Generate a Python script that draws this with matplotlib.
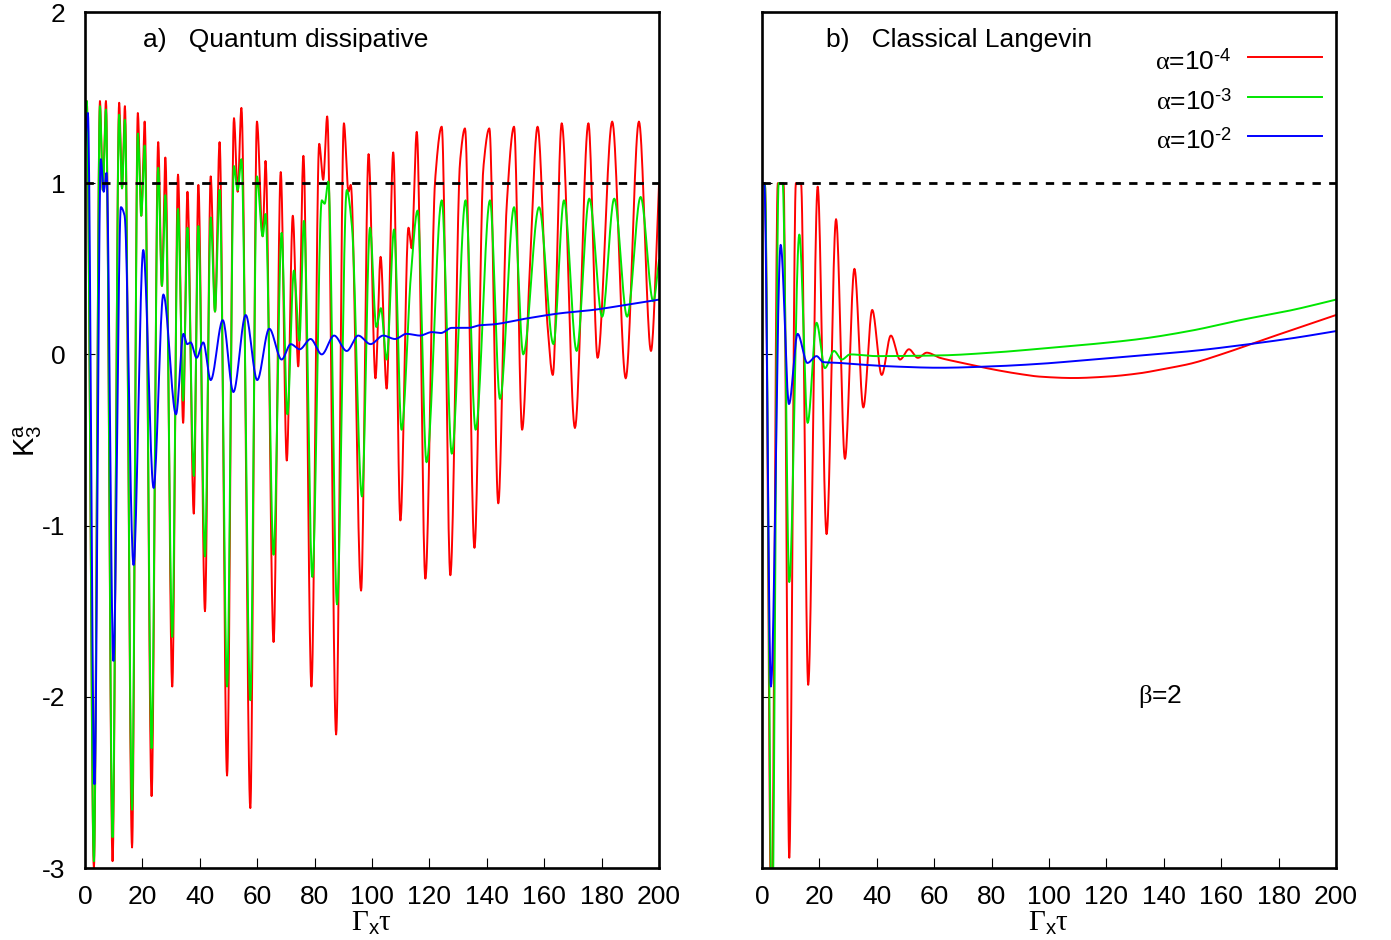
import numpy as np
import matplotlib
matplotlib.use("Agg")
import matplotlib.pyplot as plt

plt.rcParams['font.family'] = ['Liberation Sans', 'DejaVu Sans']
plt.rcParams['mathtext.fontset'] = 'custom'
plt.rcParams['mathtext.rm'] = 'Liberation Serif'
plt.rcParams['mathtext.it'] = 'Liberation Serif:italic'
plt.rcParams['mathtext.sf'] = 'Liberation Sans'
plt.rcParams['axes.unicode_minus'] = False

# ---------------- data (extrema / key points) -------------
# Panel a) Quantum dissipative
qa_red_t = [0, 0.6, 3.1, 5.2, 6.2, 7.3, 9.6, 11.9, 12.9, 13.9, 16.4, 18.4, 19.6, 20.8, 23.2,
            25.5, 26.8, 28.0, 30.4, 32.4, 34.2, 35.7, 37.9, 39.5, 41.8, 43.8, 45.3, 46.9, 49.5,
            51.9, 53.2, 54.5, 57.6, 59.9, 61.9, 62.9, 65.7, 68.2, 70.3, 72.4, 74.3, 76.1, 78.9,
            81.6, 83.0, 84.4, 87.5, 90.2, 91.8, 92.6, 96.2, 98.8, 101.2, 103.0, 105.1, 107.4,
            109.9, 112.7, 113.8, 115.6, 118.6, 122.0, 124.3, 127.3, 130.7, 132.4, 135.7, 138.8,
            140.9, 144.0, 146.9, 149.5, 152.3, 154.8, 157.7, 161.1, 163.0, 166.1, 170.7, 175.4,
            178.6, 183.7, 188.4, 193.0, 197.2, 200]
qa_red_v = [1.30, 1.48, -3.00, 1.48, 0.96, 1.48, -2.96, 1.47, 0.97, 1.45, -2.88, 1.41, 0.81, 1.36, -2.58,
            1.24, 0.40, 1.15, -1.94, 1.05, -0.40, 0.95, -0.93, 0.99, -1.50, 1.04, 0.25, 1.24, -2.46,
            1.38, 0.95, 1.44, -2.65, 1.36, 0.69, 1.13, -1.68, 1.065, -0.62, 0.81, -0.07, 1.16, -1.94,
            1.23, 1.02, 1.39, -2.22, 1.35, 0.95, 0.99, -1.38, 1.17, -0.14, 0.57, -0.20, 1.18,
            -0.97, 0.74, 0.62, 1.30, -1.31, 1.02, 1.33, -1.29, 1.13, 1.32, -1.13, 1.09,
            1.32, -0.87, 0.86, 1.33, -0.44, 0.43, 1.33, 0.18, -0.12, 1.35, -0.43, 1.35,
            -0.02, 1.36, -0.14, 1.36, 0.02, 0.99]

qa_green_t = [0, 0.6, 3.1, 5.2, 6.2, 7.3, 9.6, 11.9, 12.9, 13.9, 16.4, 18.4, 19.6, 20.8, 23.2,
              25.5, 26.8, 28.0, 30.4, 32.4, 34.2, 35.7, 37.9, 39.5, 41.8, 43.8, 45.3, 46.9, 49.5,
              51.9, 53.2, 54.5, 57.6, 59.9, 61.9, 62.9, 65.7, 68.5, 70.5, 72.8, 74.7, 76.3, 79.2,
              82.5, 83.5, 84.8, 87.8, 91.2, 93.0, 96.5, 99.3, 101.5, 103.1, 105.1, 107.7, 110.3,
              113.5, 115.9, 119.0, 124.3, 127.8, 132.6, 136.1, 141.1, 144.6, 149.5, 152.7, 158.2,
              163.2, 166.9, 171.3, 175.7, 180.2, 184.4, 188.9, 193.6, 198.0, 200]
qa_green_v = [1.30, 1.48, -2.96, 1.45, 0.96, 1.43, -2.82, 1.40, 0.97, 1.37, -2.66, 1.29, 0.81, 1.22, -2.30,
              1.09, 0.40, 0.93, -1.65, 0.85, -0.27, 0.74, -0.71, 0.75, -1.18, 0.80, 0.25, 0.96, -1.94,
              1.10, 0.96, 1.14, -2.02, 1.04, 0.69, 0.82, -1.17, 0.71, -0.35, 0.49, 0.08, 0.78, -1.30,
              0.90, 0.88, 1.01, -1.46, 0.96, 0.75, -0.83, 0.74, 0.16, 0.27, -0.03, 0.73, -0.44,
              0.45, 0.84, -0.63, 0.90, -0.58, 0.90, -0.44, 0.90, -0.26, 0.86, 0.00, 0.86,
              0.06, 0.90, 0.02, 0.91, 0.22, 0.91, 0.22, 0.92, 0.31, 0.55]

qa_blue_t = [0, 1.0, 3.3, 5.5, 6.5, 7.5, 9.9, 12.5, 13.8, 16.9, 20.3, 23.9, 27.3, 31.7, 34.3, 35.6,
             36.8, 38.9, 41.2, 43.8, 48.0, 51.7, 56.0, 60.0, 64.2, 68.5, 71.7, 74.8, 78.6, 82.5,
             86.8, 91.2, 95.2, 99.5, 103.9, 108.0, 112.0, 116.7, 120.8, 124.0, 127.8, 133.6,
             137.5, 142.0, 153.9, 165.5, 177.1, 188.7, 200]
qa_blue_v = [1.20, 1.41, -2.51, 1.14, 0.95, 1.06, -1.79, 0.86, 0.81, -1.23, 0.61, -0.78, 0.35, -0.35, 0.12, 0.06,
             0.07, -0.02, 0.07, -0.15, 0.20, -0.22, 0.23, -0.15, 0.15, -0.03, 0.06, 0.03, 0.09, 0.00,
             0.11, 0.02, 0.11, 0.06, 0.11, 0.09, 0.12, 0.11, 0.13, 0.125, 0.155, 0.155,
             0.17, 0.175, 0.21, 0.24, 0.26, 0.29, 0.32]

# Panel b) Classical Langevin
cl_red_t = [0, 1.0, 3.3, 5.5, 7.5, 9.5, 11.8, 13.6, 16.1, 19.4, 22.5, 25.8, 28.9, 32.2, 35.3, 38.4,
            41.7, 44.9, 48.1, 51.2, 54.3, 57.4, 62, 70, 79.4, 90, 96.9, 108.5, 120.1, 131.7, 140,
            149.1, 160.7, 172.3, 186, 200]
cl_red_v = [1.0, 1.0, -3.4, 1.0, 1.0, -2.94, 1.0, 1.0, -1.93, 0.98, -1.05, 0.79, -0.61, 0.50, -0.31, 0.26,
            -0.12, 0.11, -0.03, 0.03, -0.02, 0.01, -0.02, -0.05, -0.084, -0.115, -0.13, -0.138, -0.13, -0.11, -0.085,
            -0.055, 0.004, 0.072, 0.15, 0.23]

cl_green_t = [0, 1.0, 3.5, 5.8, 7.2, 9.5, 13.0, 15.9, 19.0, 21.9, 25.1, 27.8, 30.7, 40, 62, 80,
              96.9, 115, 131.7, 150, 166.6, 185, 200]
cl_green_v = [1.0, 1.0, -3.4, 1.0, 1.0, -1.33, 0.70, -0.40, 0.185, -0.08, 0.02, -0.03, 0.0, -0.01, -0.006, 0.01,
              0.033, 0.06, 0.09, 0.14, 0.20, 0.26, 0.32]

cl_blue_t = [0, 0.8, 3.1, 6.5, 9.4, 12.4, 15.8, 19.0, 21.3, 27, 35, 45, 62, 80, 96.9, 115,
             131.7, 150, 166.6, 185, 200]
cl_blue_v = [1.0, 1.0, -1.94, 0.64, -0.29, 0.12, -0.05, -0.01, -0.045, -0.05, -0.06, -0.07, -0.078, -0.07, -0.055, -0.03,
             -0.006, 0.02, 0.053, 0.095, 0.136]

legend_labels = ['$\\mathrm{α}$=10$^{\\mathsf{\u20104}}$', '$\\mathrm{α}$=10$^{\\mathsf{\u20103}}$',
                 '$\\mathrm{α}$=10$^{\\mathsf{\u20102}}$']
x_ticks = [0, 20, 40, 60, 80, 100, 120, 140, 160, 180, 200]
y_ticks = [-3, -2, -1, 0, 1, 2]

RED, GREEN, BLUE = '#ff0000', '#00e600', '#0000ff'


def smooth(t, v, n=20):
    """Monotone cubic (Fritsch-Carlson) path through the read points."""
    t = np.asarray(t, float)
    v = np.asarray(v, float)
    h = np.diff(t)
    d = np.diff(v) / h
    m = np.zeros_like(v)
    m[0], m[-1] = d[0], d[-1]
    for k in range(1, len(v) - 1):
        if d[k - 1] * d[k] <= 0:
            m[k] = 0.0
        else:
            w1 = 2 * h[k] + h[k - 1]
            w2 = h[k] + 2 * h[k - 1]
            m[k] = (w1 + w2) / (w1 / d[k - 1] + w2 / d[k])
    xs, ys = [], []
    s = np.linspace(0, 1, n, endpoint=False)
    h00 = 2 * s**3 - 3 * s**2 + 1
    h10 = s**3 - 2 * s**2 + s
    h01 = -2 * s**3 + 3 * s**2
    h11 = s**3 - s**2
    for k in range(len(h)):
        xs.append(t[k] + s * h[k])
        ys.append(h00 * v[k] + h10 * h[k] * m[k] + h01 * v[k + 1] + h11 * h[k] * m[k + 1])
    xs.append([t[-1]])
    ys.append([v[-1]])
    return np.concatenate(xs), np.concatenate(ys)


W, H = 1391, 940
fig = plt.figure(figsize=(W / 100, H / 100), dpi=100)
axL = fig.add_axes([85 / W, 1 - 868 / H, 574 / W, 856 / H])
axR = fig.add_axes([762 / W, 1 - 868 / H, 574 / W, 856 / H])

for ax, series in ((axL, [(qa_red_t, qa_red_v, RED), (qa_green_t, qa_green_v, GREEN),
                          (qa_blue_t, qa_blue_v, BLUE)]),
                   (axR, [(cl_red_t, cl_red_v, RED), (cl_green_t, cl_green_v, GREEN),
                          (cl_blue_t, cl_blue_v, BLUE)])):
    for t, v, c in series:
        xs, ys = smooth(t, v)
        ax.plot(xs, ys, color=c, lw=1.4, solid_joinstyle='round')
    ax.axhline(1.0, color='black', lw=2.0, ls=(0, (3, 3)), zorder=5)
    ax.set_xlim(0, 200)
    ax.set_ylim(-3, 2)
    ax.set_xticks(x_ticks)
    ax.set_yticks(y_ticks)
    ax.tick_params(direction='in', length=7, width=0.8, labelsize=19, top=False, right=False)
    ax.tick_params(axis='x', pad=12)
    ax.tick_params(axis='y', pad=14)
    for sp in ax.spines.values():
        sp.set_linewidth(1.9)
    ax.set_xlabel(r'$\mathrm{Γ}_{\mathsf{x}}\mathrm{τ}$', fontsize=21, labelpad=0)

axR.set_yticklabels([])
axL.set_ylabel(r'$\mathsf{K}^{\mathsf{a}}_{\mathsf{3}}$', fontsize=21)
axL.yaxis.set_label_coords((28 - 85) / 574, 0.5)
axL.yaxis.label.set_va('center')

axL.text(20.2, 1.835, 'a)   Quantum dissipative', fontsize=19, ha='left', va='center')
axR.text(22.3, 1.835, 'b)   Classical Langevin', fontsize=19, ha='left', va='center')
axR.text(138.7, -2.0, r'$\mathrm{β}$=2', fontsize=19, ha='center', va='center')

# manual key (gnuplot style)
for i, (lab, c) in enumerate(zip(legend_labels, [RED, GREEN, BLUE])):
    yf = (868 - (57 + 39.5 * i)) / 856
    axR.text(0.819, yf - 0.006, lab, transform=axR.transAxes, fontsize=19, ha='right', va='center')
    axR.plot([0.847, 0.976], [yf, yf], transform=axR.transAxes, color=c, lw=1.4)

fig.savefig('out.png', dpi=100)
